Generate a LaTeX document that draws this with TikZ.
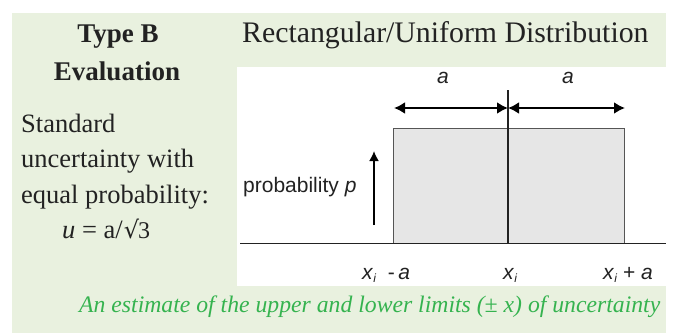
\documentclass[tikz,border=0pt]{standalone}
\usepackage{fontspec}
\setmainfont{Liberation Serif}
\setsansfont{Liberation Sans}
\usetikzlibrary{arrows.meta}
\definecolor{panel}{HTML}{E9F1DF}
\definecolor{boxgray}{HTML}{E6E6E6}
\definecolor{edgegray}{HTML}{555555}
\definecolor{notegreen}{HTML}{35B34F}
\definecolor{ink}{HTML}{222222}
\tikzset{
  lefttxt/.style={anchor=base west, inner sep=0pt, font=\fontsize{26.5}{30}\selectfont, text=ink},
  titletxt/.style={anchor=base, inner sep=0pt, font=\fontsize{27}{30}\selectfont\bfseries, text=ink},
  plottxt/.style={inner sep=0pt, font=\sffamily\fontsize{21}{24}\selectfont, text=ink},
  dimarrow/.style={line width=2.6pt, {Latex[length=11pt,width=12pt]}-{Latex[length=11pt,width=12pt]}},
}
\begin{document}
\begin{tikzpicture}[x=1pt,y=-1pt]
\useasboundingbox (0,0) rectangle (674,333);
\fill[white] (0,0) rectangle (674,333);
\fill[panel] (12,13) rectangle (666,333);
\fill[white] (237,67) rectangle (666,286);

% left texts
\node[titletxt] (t1) at (118,42) {Type B};
\node[titletxt] (t2) at (117,80) {Evaluation};
\node[lefttxt] (l1) at (21,132) {Standard};
\node[lefttxt] (l2) at (21,167) {uncertainty with};
\node[lefttxt] (l3) at (21,203) {equal probability:};
\node[lefttxt] (l4) at (62,238) {\textit{u} = a/\kern1pt\fontspec{DejaVu Serif}\fontsize{24}{28}\selectfont√\kern-1pt\setmainfont{Liberation Serif}\rmfamily 3};
\node[anchor=base west, inner sep=0pt, font=\fontsize{29.8}{33}\selectfont, text=ink] (title) at (242,42) {Rectangular/Uniform Distribution};

% plot
\coordinate (bl) at (240,243);
\coordinate (br) at (666,243);
\draw[edgegray, line width=0.8pt, fill=boxgray] (393,243) rectangle (624,128);
\draw[ink, line width=1pt] (bl) -- (br);
\coordinate (ctop) at (508,90);
\coordinate (cbot) at (508,243);
\draw[ink, line width=1.2pt] (ctop) -- (cbot);
\coordinate (al) at (394,108);
\coordinate (am) at (508,108);
\coordinate (ar) at (625,108);
\draw[dimarrow] (al) -- (am);
\draw[dimarrow] (am) -- (ar);
\node[plottxt] (a1) at (443,78) {\textit{a}};
\node[plottxt] (a2) at (568,78) {\textit{a}};
\node[plottxt, anchor=west] (prob) at (243,187) {probability \textit{p}};
\coordinate (pb) at (374,225);
\coordinate (pt) at (374,151);
\draw[line width=1.8pt, -{Latex[length=10pt,width=10pt]}] (pb) -- (pt);
\node[plottxt, anchor=base west] (x1) at (362,279) {\textit{x}\raisebox{-3pt}{\fontsize{12}{13}\selectfont\textit{i}}\ \ -\,\textit{a}};
\node[plottxt, anchor=base west] (x2) at (503,279) {\textit{x}\raisebox{-3pt}{\fontsize{12}{13}\selectfont\textit{i}}};
\node[plottxt, anchor=base west] (x3) at (603,279) {\textit{x}\raisebox{-3pt}{\fontsize{12}{13}\selectfont\textit{i}} + \textit{a}};

% bottom note
\node[anchor=base west, inner sep=0pt, font=\fontsize{23.7}{27}\selectfont\itshape, text=notegreen] (note) at (79,312) {An estimate of the upper and lower limits (± x) of uncertainty};
\end{tikzpicture}
\end{document}
